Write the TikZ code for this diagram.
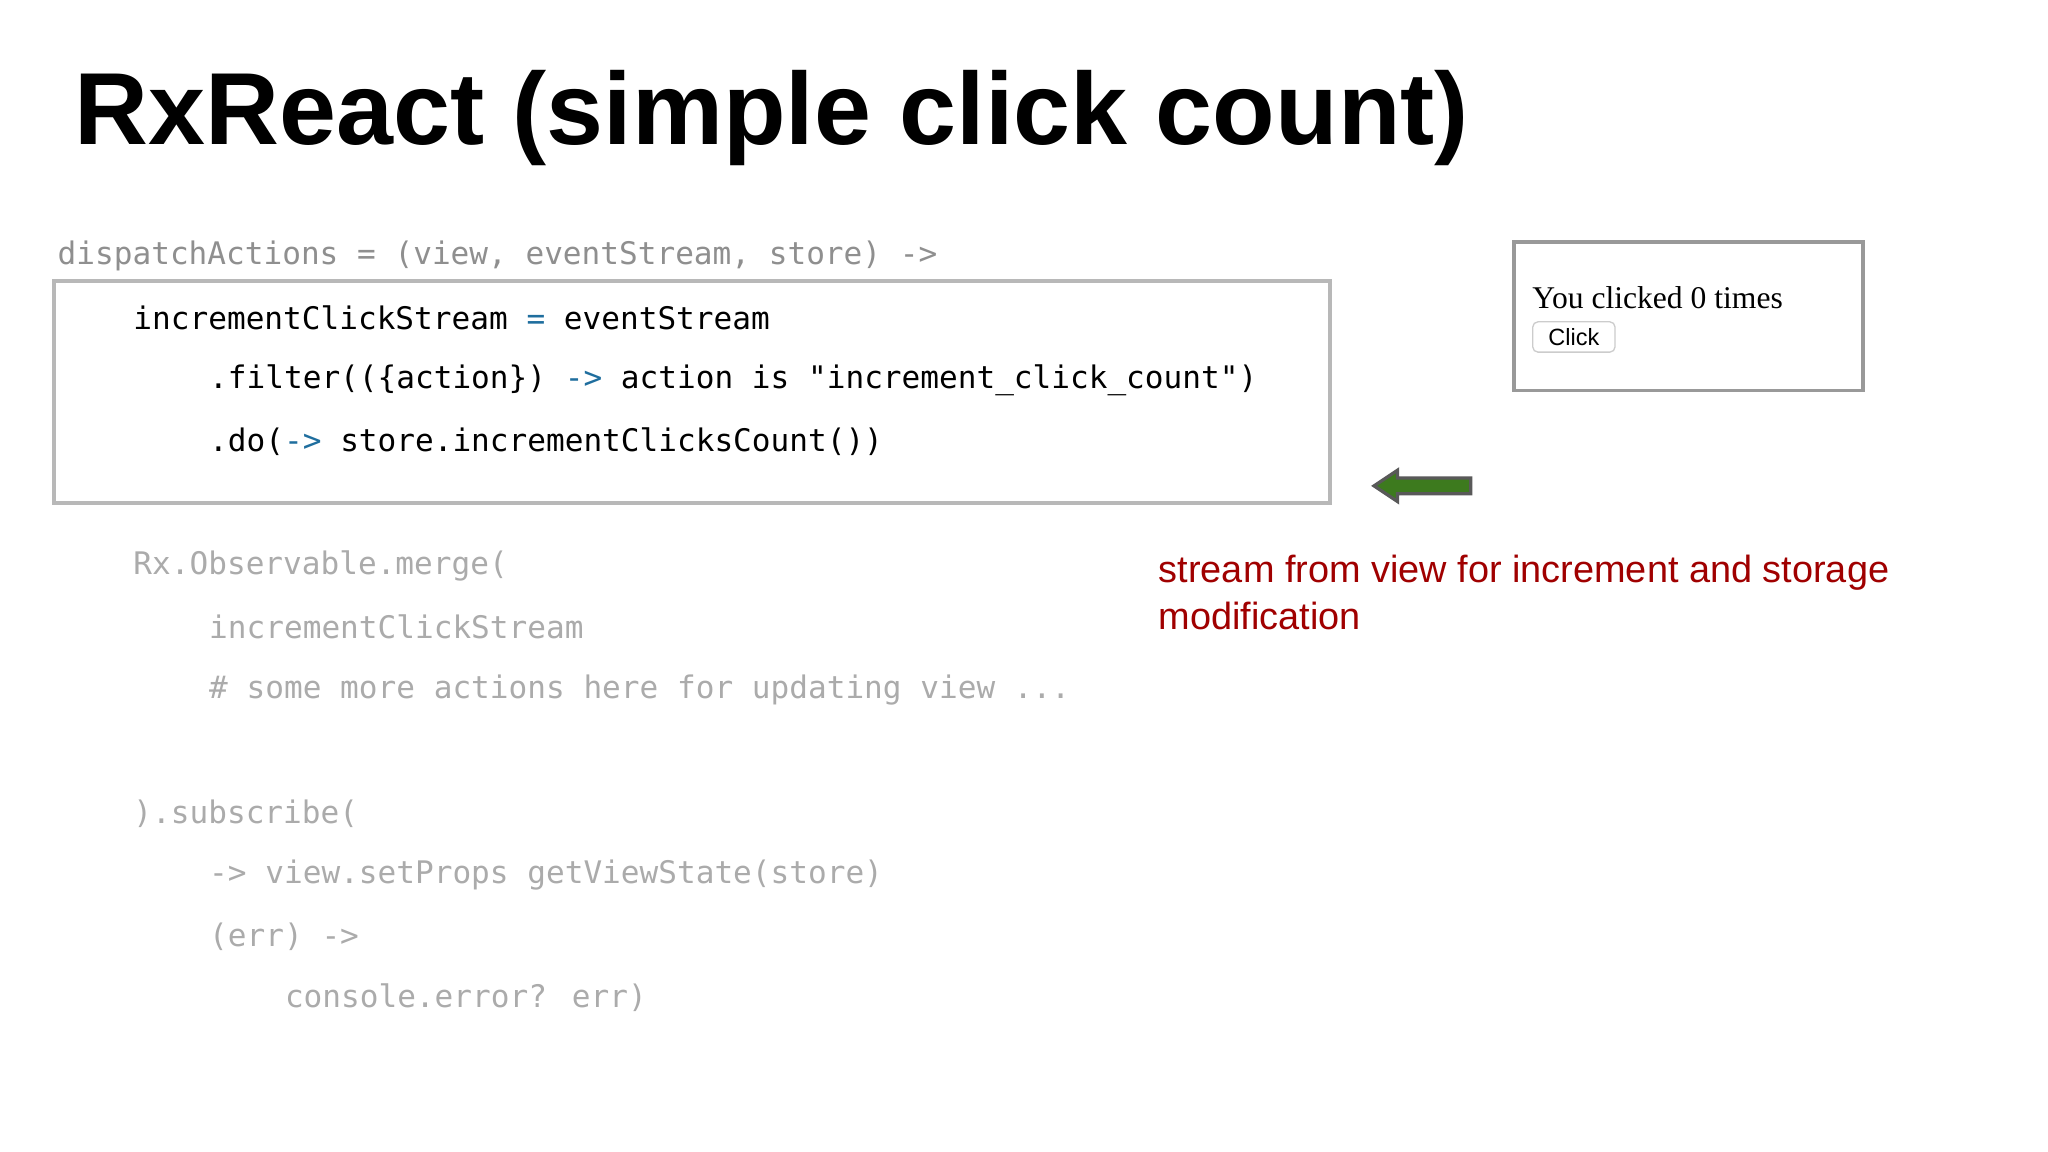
\documentclass[tikz,border=0pt]{standalone}
\usepackage{fontspec}
\setmainfont{Liberation Sans}
\newfontfamily\codef{DejaVu Sans Mono}
\newfontfamily\timesf{Liberation Serif}
\definecolor{hdr}{HTML}{8F8F8F}
\definecolor{dim}{HTML}{ABABAB}
\definecolor{kw}{HTML}{1F6E9E}
\definecolor{red}{HTML}{A00000}
\definecolor{grn}{HTML}{3D7A1E}
\begin{document}
\begin{tikzpicture}[x=1pt,y=-1pt,
  code/.style={anchor=west,inner sep=0pt,font=\codef\fontsize{23.8}{28}\selectfont},
  box/.style={draw=#1,line width=3pt}]
\useasboundingbox[fill=white] (0,0) rectangle (1568,882);
\node[anchor=west,inner sep=0pt,font=\bfseries\fontsize{78.4}{90}\selectfont] (title) at (57,90) {RxReact (simple click count)};
\node[code,text=hdr] (l0) at (44,196) {dispatchActions = (view, eventStream, store) ->};
\draw[box=dim!85] (41,215) rectangle (1018,385);
\node[code] (l1) at (102,243) {incrementClickStream \textcolor{kw}{=} eventStream};
\node[code] (l2) at (160,291) {.filter((\{action\}) \textcolor{kw}{->} action is "increment\_click\_count")};
\node[code] (l3) at (160,338) {.do(\textcolor{kw}{->} store.incrementClicksCount())};
\node[code,text=dim] (l4) at (102,433) {Rx.Observable.merge(};
\node[code,text=dim] (l5) at (160,480) {incrementClickStream};
\node[code,text=dim] (l6) at (160,528) {\# some more actions here for updating view ...};
\node[code,text=dim] (l7) at (102,623) {).subscribe(};
\node[code,text=dim] (l8) at (160,670) {-> view.setProps getViewState(store)};
\node[code,text=dim] (l9) at (160,717) {(err) ->};
\node[code,text=dim] (l10) at (218,764) {console.error? err)};
% click widget
\draw[box=gray!80] (1159,185) rectangle (1426,299);
\node[anchor=west,inner sep=0pt,font=\timesf\fontsize{24.2}{28}\selectfont] (you) at (1173,228) {You clicked 0 times};
\node[anchor=west,draw=gray!40,line width=1pt,rounded corners=4pt,inner xsep=12pt,inner ysep=5pt,font=\fontsize{18}{20}\selectfont] (btn) at (1173,258) {Click};
% arrow
\filldraw[fill=grn,draw=gray!70!black,line width=2.5pt,line join=miter]
  (1126,366) -- (1070,366) -- (1070,360) -- (1052,372) -- (1070,384) -- (1070,378) -- (1126,378) -- cycle;
\node[anchor=north west,inner sep=0pt,align=left,text=red,font=\fontsize{29}{36}\selectfont] (note) at (887,425) {stream from view for increment and storage\\modification};
\end{tikzpicture}
\end{document}
